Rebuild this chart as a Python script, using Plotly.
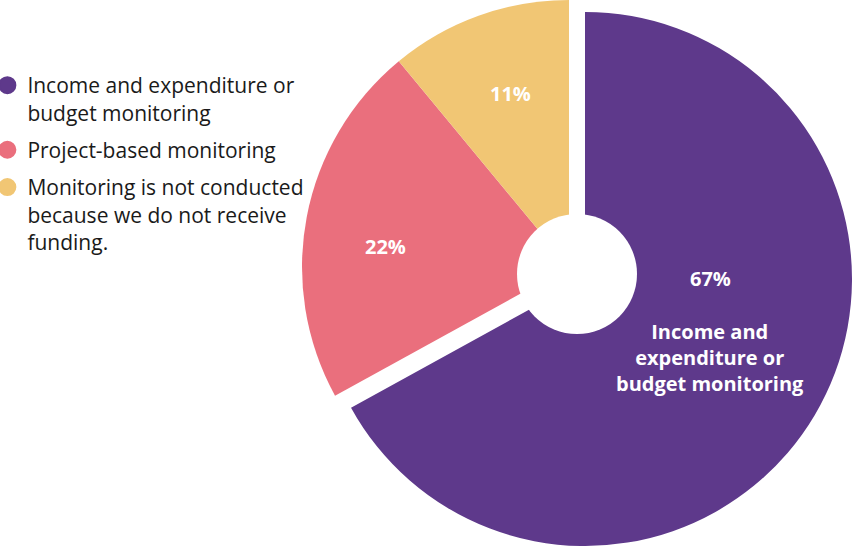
import plotly.graph_objects as go

# Share of organisations by type of monitoring
categories = [
    "Income and expenditure or budget monitoring",
    "Project-based monitoring",
    "Monitoring is not conducted because we do not receive funding.",
]
legend_labels = [
    "Income and expenditure or<br>budget monitoring",
    "Project-based monitoring",
    "Monitoring is not conducted<br>because we do not receive<br>funding.",
]
shares = [67, 22, 11]
colors = ["#5E398B", "#EA6F7D", "#F1C674"]
CLEAR = "rgba(0,0,0,0)"

W, H = 853, 546
FONT = "Open Sans"


def dom(cx, cy, r):
    """Pie domain (paper coords) for a pie of radius r centred at pixel (cx, cy)."""
    return dict(x=[(cx - r) / W, (cx + r) / W], y=[1 - (cy + r) / H, 1 - (cy - r) / H])


R = 267
fig = go.Figure()

# Pink and yellow slices in their base position
fig.add_trace(go.Pie(
    labels=categories, values=shares, sort=False, direction="clockwise", rotation=0,
    marker=dict(colors=[CLEAR, colors[1], colors[2]], line=dict(width=0)),
    textinfo="none", hoverinfo="skip", showlegend=False,
    domain=dom(569, 267, R),
))
# Purple slice, pulled out from the centre
fig.add_trace(go.Pie(
    labels=categories, values=shares, sort=False, direction="clockwise", rotation=0,
    marker=dict(colors=[colors[0], CLEAR, CLEAR], line=dict(width=0)),
    textinfo="none", hoverinfo="skip", showlegend=False,
    domain=dom(585, 279, R),
))

# Legend entries
for i, (lab, col) in enumerate(zip(legend_labels, colors)):
    fig.add_trace(go.Scatter(
        x=[None], y=[None], mode="markers", name=lab, legendgroup=f"g{i}",
        marker=dict(size=16, color=col, symbol="circle", line=dict(color=col, width=2)),
    ))

# Centre hole
hx, hy, hr = 577, 274, 60
fig.add_shape(type="circle", xref="paper", yref="paper",
              x0=(hx - hr) / W, x1=(hx + hr) / W,
              y0=1 - (hy + hr) / H, y1=1 - (hy - hr) / H,
              fillcolor="white", line=dict(width=0), layer="above")

lab_font = dict(family=FONT, size=20, color="white")
pos = [(710, 278), (385, 247), (511, 93)]
for (px, py), v in zip(pos, shares):
    fig.add_annotation(x=px / W, y=1 - py / H, xref="paper", yref="paper",
                       xanchor="center", yanchor="middle",
                       text=f"<b>{v}%</b>", showarrow=False, font=lab_font)
fig.add_annotation(x=710 / W, y=1 - 357 / H, xref="paper", yref="paper",
                   xanchor="center", yanchor="middle",
                   text="<b>Income and<br>expenditure or<br>budget monitoring</b>",
                   showarrow=False, font=dict(family=FONT, size=20, color="white"))

fig.update_layout(
    width=W, height=H, margin=dict(l=0, r=0, t=0, b=0, autoexpand=False),
    paper_bgcolor="white", plot_bgcolor="white",
    xaxis=dict(visible=False), yaxis=dict(visible=False),
    showlegend=True,
    legend=dict(x=-0.0148, y=1 - 65 / H, xanchor="left", yanchor="top",
                valign="top", tracegroupgap=7,
                font=dict(family=FONT, size=21, color="#1a1a1a"),
                bgcolor="rgba(0,0,0,0)", itemclick=False),
)

fig.write_html("out.html")
